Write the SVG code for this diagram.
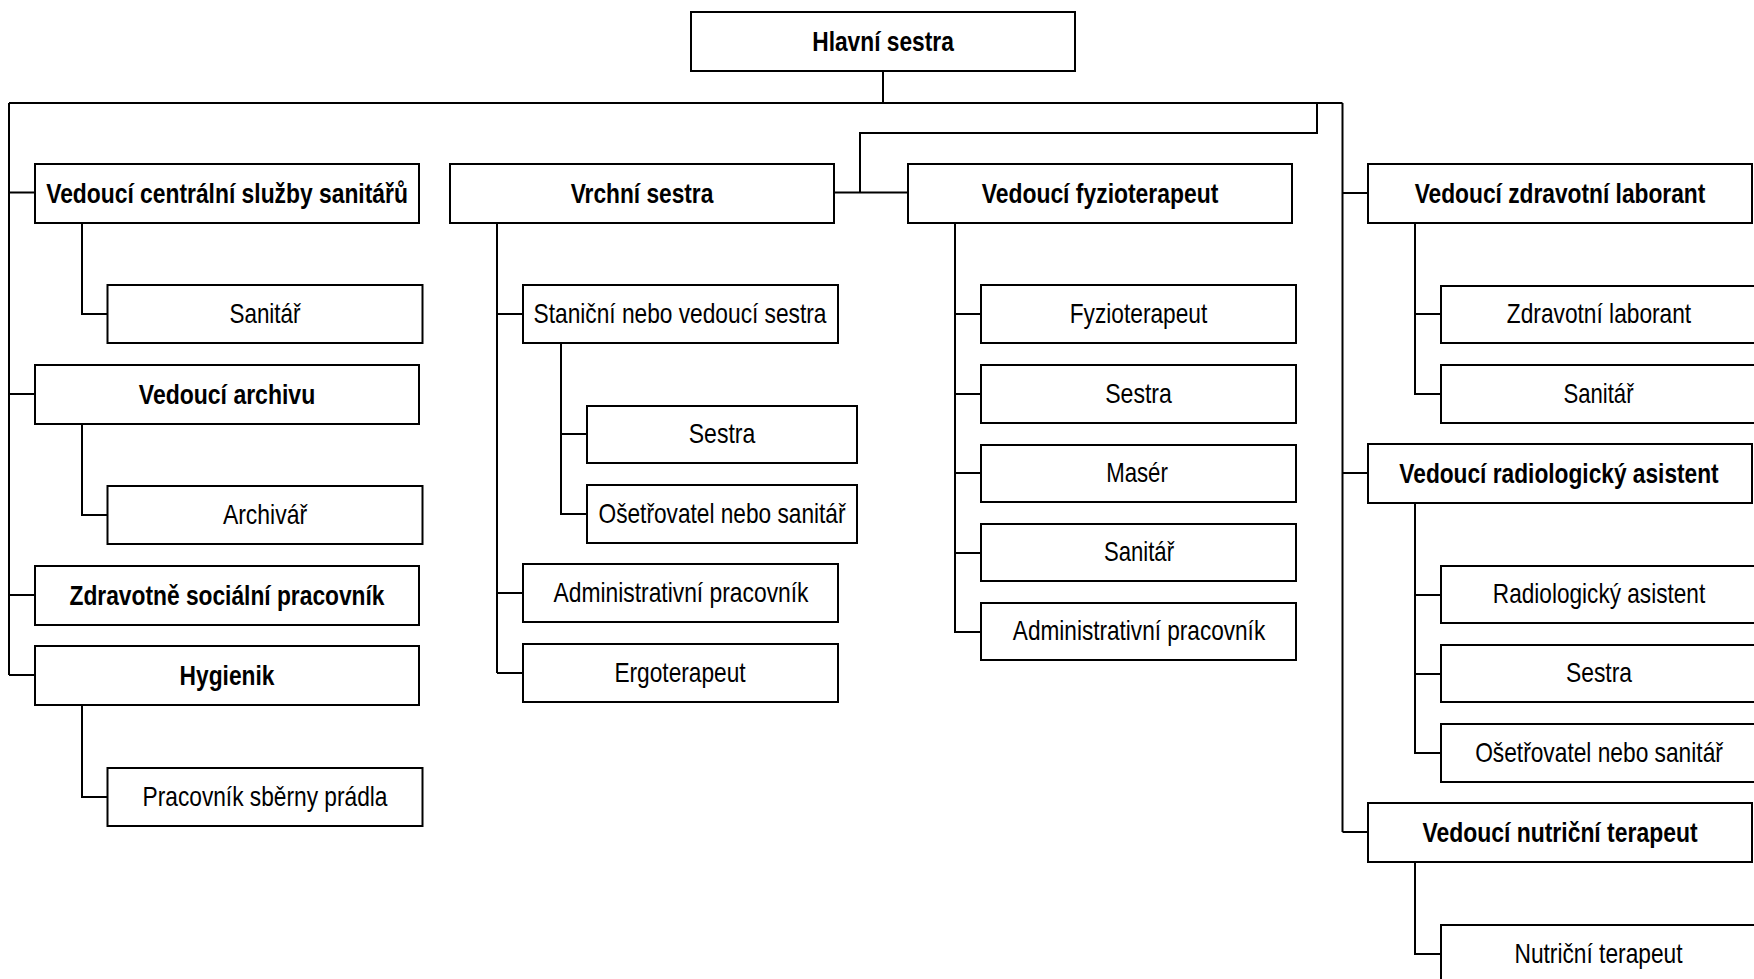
<svg xmlns="http://www.w3.org/2000/svg" width="1754" height="979" viewBox="0 0 1754 979">
<style>
rect{fill:#fff;stroke:#000;stroke-width:2}
.c path{fill:none;stroke:#000;stroke-width:2}
text{font-family:"Liberation Sans Narrow","Liberation Sans",Arial,sans-serif;font-size:28px;text-anchor:middle;fill:#000}
.b{font-weight:bold}
</style>
<rect x="0" y="0" width="1754" height="979" style="fill:#fff;stroke:none"/>
<g class="c" id="connectors">
<path d="M883,71V103M9,103H1342.5M9,103V675M9,192.5H35M9,394H35M9,595H35M9,675H35"/>
<path d="M82,223V314H107.5M82,424V515H107.5M82,705V797H107.5"/>
<path d="M1317,103V133H860V192.5M833,192.5H908"/>
<path d="M497,223V673M497,314H523M497,593H523M497,673H523M561,343V514H587M561,434H587"/>
<path d="M955,223V632H981M955,314H981M955,394H981M955,473H981M955,553H981"/>
<path d="M1342.5,103V832M1342.5,193H1368M1342.5,473H1368M1342.5,832H1368"/>
<path d="M1415,223V394H1441M1415,314H1441M1415,503V753H1441M1415,595H1441M1415,674H1441M1415,862V954H1441"/>
</g>
<g id="n0"><rect x="691" y="12" width="384" height="59"/><text class="b" transform="translate(883,51) scale(.82,1)" textLength="172.6" lengthAdjust="spacingAndGlyphs">Hlavní sestra</text></g>
<g id="a1"><rect x="35" y="164" width="384" height="59"/><text class="b" transform="translate(227,203) scale(.82,1)" textLength="441.1" lengthAdjust="spacingAndGlyphs">Vedoucí centrální služby sanitářů</text></g>
<g id="a1c"><rect x="107.5" y="285" width="315" height="58"/><text transform="translate(265,322.5) scale(.82,1)" textLength="86.6" lengthAdjust="spacingAndGlyphs">Sanitář</text></g>
<g id="a2"><rect x="35" y="365" width="384" height="59"/><text class="b" transform="translate(227,404) scale(.82,1)" textLength="215.1" lengthAdjust="spacingAndGlyphs">Vedoucí archivu</text></g>
<g id="a2c"><rect x="107.5" y="486" width="315" height="58"/><text transform="translate(265,523.5) scale(.82,1)" textLength="102.7" lengthAdjust="spacingAndGlyphs">Archivář</text></g>
<g id="a3"><rect x="35" y="566" width="384" height="59"/><text class="b" transform="translate(227,605) scale(.82,1)" textLength="384.1" lengthAdjust="spacingAndGlyphs">Zdravotně sociální pracovník</text></g>
<g id="a4"><rect x="35" y="646" width="384" height="59"/><text class="b" transform="translate(227,685) scale(.82,1)" textLength="115.7" lengthAdjust="spacingAndGlyphs">Hygienik</text></g>
<g id="a4c"><rect x="107.5" y="768" width="315" height="58"/><text transform="translate(265,805.5) scale(.82,1)" textLength="298.7" lengthAdjust="spacingAndGlyphs">Pracovník sběrny prádla</text></g>
<g id="b0"><rect x="450" y="164" width="384" height="59"/><text class="b" transform="translate(642,203) scale(.82,1)" textLength="174" lengthAdjust="spacingAndGlyphs">Vrchní sestra</text></g>
<g id="b1"><rect x="523" y="285" width="315" height="58"/><text transform="translate(680,322.5) scale(.82,1)" textLength="357.2" lengthAdjust="spacingAndGlyphs">Staniční nebo vedoucí sestra</text></g>
<g id="b11"><rect x="587" y="406" width="270" height="57"/><text transform="translate(722,443) scale(.82,1)" textLength="81.1" lengthAdjust="spacingAndGlyphs">Sestra</text></g>
<g id="b12"><rect x="587" y="485" width="270" height="58"/><text transform="translate(722,522.5) scale(.82,1)" textLength="301.2" lengthAdjust="spacingAndGlyphs">Ošetřovatel nebo sanitář</text></g>
<g id="b2"><rect x="523" y="564" width="315" height="58"/><text transform="translate(681,601.5) scale(.82,1)" textLength="311" lengthAdjust="spacingAndGlyphs">Administrativní pracovník</text></g>
<g id="b3"><rect x="523" y="644" width="315" height="58"/><text transform="translate(680,681.5) scale(.82,1)" textLength="160" lengthAdjust="spacingAndGlyphs">Ergoterapeut</text></g>
<g id="c0"><rect x="908" y="164" width="384" height="59"/><text class="b" transform="translate(1100,203) scale(.82,1)" textLength="288.5" lengthAdjust="spacingAndGlyphs">Vedoucí fyzioterapeut</text></g>
<g id="c1"><rect x="981" y="285" width="315" height="58"/><text transform="translate(1138.5,322.5) scale(.82,1)" textLength="167.7" lengthAdjust="spacingAndGlyphs">Fyzioterapeut</text></g>
<g id="c2"><rect x="981" y="365" width="315" height="58"/><text transform="translate(1138.5,402.5) scale(.82,1)" textLength="81.3" lengthAdjust="spacingAndGlyphs">Sestra</text></g>
<g id="c3"><rect x="981" y="445" width="315" height="57"/><text transform="translate(1137,482) scale(.82,1)" textLength="75.2" lengthAdjust="spacingAndGlyphs">Masér</text></g>
<g id="c4"><rect x="981" y="524" width="315" height="57"/><text transform="translate(1139,561) scale(.82,1)" textLength="85.4" lengthAdjust="spacingAndGlyphs">Sanitář</text></g>
<g id="c5"><rect x="981" y="603" width="315" height="57"/><text transform="translate(1139,640) scale(.82,1)" textLength="307.7" lengthAdjust="spacingAndGlyphs">Administrativní pracovník</text></g>
<g id="d1"><rect x="1368" y="164" width="384" height="59"/><text class="b" transform="translate(1560,203) scale(.82,1)" textLength="354.5" lengthAdjust="spacingAndGlyphs">Vedoucí zdravotní laborant</text></g>
<g id="d11"><rect x="1441" y="286" width="316" height="57"/><text transform="translate(1599,323) scale(.82,1)" textLength="224.8" lengthAdjust="spacingAndGlyphs">Zdravotní laborant</text></g>
<g id="d12"><rect x="1441" y="365" width="316" height="58"/><text transform="translate(1598.5,402.5) scale(.82,1)" textLength="85.4" lengthAdjust="spacingAndGlyphs">Sanitář</text></g>
<g id="d2"><rect x="1368" y="444" width="384" height="59"/><text class="b" transform="translate(1559,483) scale(.82,1)" textLength="389.4" lengthAdjust="spacingAndGlyphs">Vedoucí radiologický asistent</text></g>
<g id="d21"><rect x="1441" y="566" width="316" height="57"/><text transform="translate(1599,603) scale(.82,1)" textLength="258.9" lengthAdjust="spacingAndGlyphs">Radiologický asistent</text></g>
<g id="d22"><rect x="1441" y="645" width="316" height="57"/><text transform="translate(1599,682) scale(.82,1)" textLength="80.5" lengthAdjust="spacingAndGlyphs">Sestra</text></g>
<g id="d23"><rect x="1441" y="724" width="316" height="58"/><text transform="translate(1599,761.5) scale(.82,1)" textLength="302.1" lengthAdjust="spacingAndGlyphs">Ošetřovatel nebo sanitář</text></g>
<g id="d3"><rect x="1368" y="803" width="384" height="59"/><text class="b" transform="translate(1560,842) scale(.82,1)" textLength="335.4" lengthAdjust="spacingAndGlyphs">Vedoucí nutriční terapeut</text></g>
<g id="d31"><rect x="1441" y="925" width="316" height="58"/><text transform="translate(1598.5,962.5) scale(.82,1)" textLength="204.9" lengthAdjust="spacingAndGlyphs">Nutriční terapeut</text></g>
</svg>
